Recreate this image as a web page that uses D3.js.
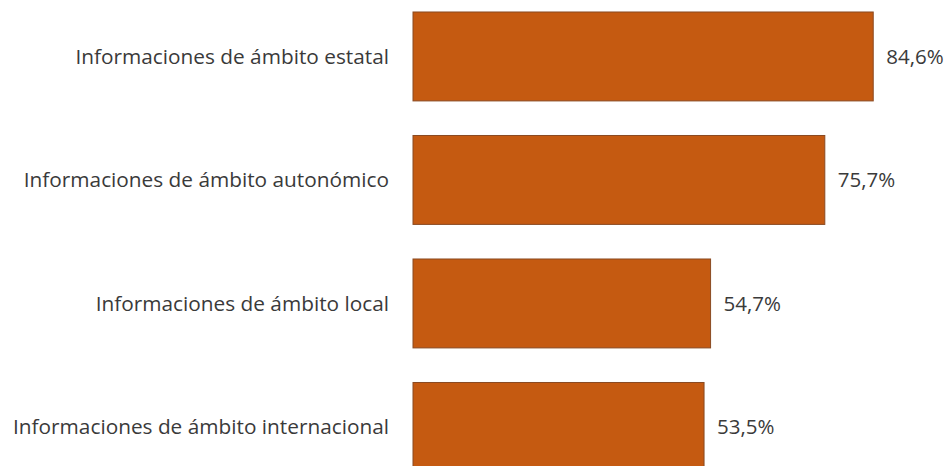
<!DOCTYPE html>
<html>
<head>
<meta charset="utf-8">
<script src="https://cdn.jsdelivr.net/npm/d3@7"></script>
<style>
  body { margin: 0; background: #fff; }
  text { font-family: "Open Sans", "Noto Sans", sans-serif; fill: #3a3a3a; }
</style>
</head>
<body>
<div id="chart"></div>
<script>
// categories and values
var categories = [
    "Informaciones de ámbito estatal",
    "Informaciones de ámbito autonómico",
    "Informaciones de ámbito local",
    "Informaciones de ámbito internacional"
];
var values = [84.6, 75.7, 54.7, 53.5];
var valueLabels = ["84,6%", "75,7%", "54,7%", "53,5%"];

var width = 950,
    height = 466;

var svg = d3.select("#chart")
    .append("svg")
    .attr("width", width)
    .attr("height", height);

var x = d3.scaleLinear()
    .domain([0, 100])
    .range([413, 957]);

var y = d3.scaleBand()
    .domain(categories)
    .range([-5.3, 488.7])
    .paddingInner(0.28)
    .paddingOuter(0.14);

var data = categories.map(function (c, i) {
    return {name: c, value: values[i], label: valueLabels[i]};
});

svg.selectAll("rect.bar")
    .data(data)
    .enter()
    .append("rect")
    .attr("class", "bar")
    .attr("x", x(0))
    .attr("y", function (d) { return y(d.name); })
    .attr("width", function (d) { return x(d.value) - x(0); })
    .attr("height", y.bandwidth())
    .attr("fill", "#c55a11")
    .attr("stroke", "#8a4a22")
    .attr("stroke-width", 1);

// category labels on the left
svg.selectAll("text.cat")
    .data(data)
    .enter()
    .append("text")
    .attr("class", "cat")
    .attr("x", x(0) - 24)
    .attr("y", function (d) { return y(d.name) + y.bandwidth() / 2; })
    .attr("dy", "0.35em")
    .attr("text-anchor", "end")
    .style("font-size", "20.8px")
    .text(function (d) { return d.name; });

// value labels
svg.selectAll("text.val")
    .data(data)
    .enter()
    .append("text")
    .attr("class", "val")
    .attr("x", function (d) { return x(d.value) + 13; })
    .attr("y", function (d) { return y(d.name) + y.bandwidth() / 2; })
    .attr("dy", "0.35em")
    .style("font-size", "20.5px")
    .text(function (d) { return d.label; });
</script>
</body>
</html>
